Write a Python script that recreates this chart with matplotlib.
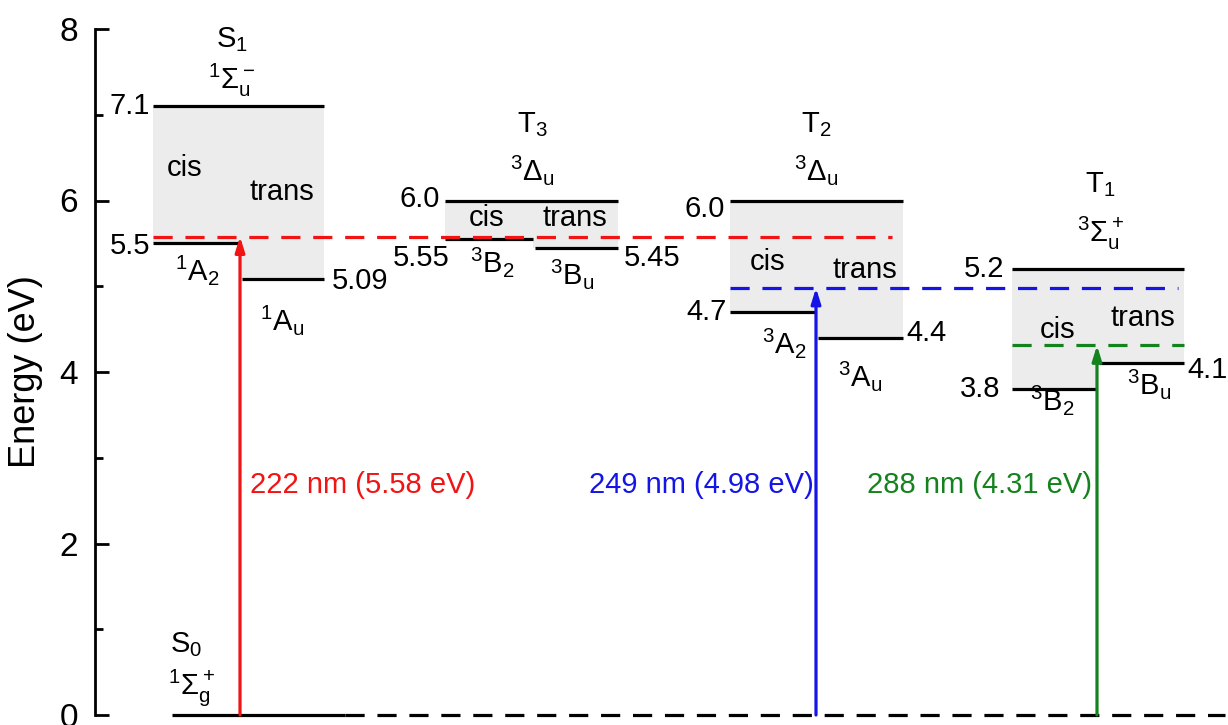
import numpy as np
import matplotlib.pyplot as plt
from matplotlib.ticker import MultipleLocator

plt.rcParams["font.family"] = ["Liberation Sans", "DejaVu Sans"]
plt.rcParams["mathtext.fontset"] = "custom"
plt.rcParams["mathtext.rm"] = "Liberation Sans"
plt.rcParams["mathtext.it"] = "Liberation Sans"
plt.rcParams["mathtext.bf"] = "Liberation Sans:bold"

# energies (eV)
states = ["S$_1$", "T$_3$", "T$_2$", "T$_1$"]
terms = [r"$^1\Sigma_u^-$", r"$^3\Delta_u$", r"$^3\Delta_u$", r"$^3\Sigma_u^+$"]
upper = [7.1, 6.0, 6.0, 5.2]
cis_e = [5.5, 5.55, 4.7, 3.8]
trans_e = [5.09, 5.45, 4.4, 4.1]
upper_lbl = ["7.1", "6.0", "6.0", "5.2"]
cis_lbl = ["5.5", "5.55", "4.7", "3.8"]
trans_lbl = ["5.09", "5.45", "4.4", "4.1"]
cis_sym = [r"$^1$A$_2$", r"$^3$B$_2$", r"$^3$A$_2$", r"$^3$B$_2$"]
trans_sym = [r"$^1$A$_u$", r"$^3$B$_u$", r"$^3$A$_u$", r"$^3$B$_u$"]

# excitations
wavelength = [222, 249, 288]
exc_e = [5.58, 4.98, 4.31]
exc_col = ["#f01414", "#1414e6", "#14821e"]

# layout (x in pixel-like units)
left = [153, 445, 730, 1012]
split = [240, 533, 816, 1097]
right = [324, 618, 903, 1184]
exc_state = [0, 2, 3]
exc_end = [892, 1178, 1184]

PX = 85.75  # pixels per eV, used only to place text


def ypix(p):
    return (715 - p) / PX


fig = plt.figure(figsize=(12.28, 7.25), dpi=100)
ax = fig.add_axes([95 / 1228, 10 / 725, 1 - 95 / 1228, 686 / 725])
ax.set_xlim(95, 1228)
ax.set_ylim(0, 8)

lw = 2.3
fs = 21

for i in range(4):
    l, s, r = left[i], split[i], right[i]
    # shaded box
    ax.fill([l, r, r, s, s, l], [upper[i], upper[i], trans_e[i], trans_e[i], cis_e[i], cis_e[i]],
            color="#ececec", lw=0, zorder=0)
    ax.plot([l, r], [upper[i], upper[i]], color="k", lw=lw, solid_capstyle="butt")
    ax.plot([l, s], [cis_e[i], cis_e[i]], color="k", lw=lw, solid_capstyle="butt")
    ax.plot([s + 2, r], [trans_e[i], trans_e[i]], color="k", lw=lw, solid_capstyle="butt")

# ground state
ax.plot([172, 345], [0, 0], color="k", lw=lw, solid_capstyle="butt", clip_on=False)
ax.plot([345, 1225], [0, 0], color="k", lw=lw, ls=(0, (6, 4)), clip_on=False)

# excitation arrows and dashed levels
for j in range(3):
    k = exc_state[j]
    ax.plot([left[k], exc_end[j]], [exc_e[j], exc_e[j]], color=exc_col[j], lw=lw, ls=(0, (6, 4)))
    ax.annotate("", xy=(split[k], exc_e[j]), xytext=(split[k], 0),
                arrowprops=dict(arrowstyle="-|>,head_length=0.9,head_width=0.28",
                                color=exc_col[j], lw=2.3, shrinkA=0, shrinkB=0),
                annotation_clip=False)

kw = dict(fontsize=fs, ha="center", va="center")

# state names and term symbols
state_xy = [(232, 40), (532, 125), (816, 125), (1100, 185)]
term_xy = [(232, 80), (532, 170), (816, 170), (1100, 233)]
for i in range(4):
    ax.text(state_xy[i][0], ypix(state_xy[i][1]), states[i], **kw)
    ax.text(term_xy[i][0], ypix(term_xy[i][1]), terms[i], **kw)

# upper level labels
up_dx = [-3, -5, -5, -8]
up_dy = [0.0, 0.02, -0.1, 0.0]
for i in range(4):
    ax.text(left[i] + up_dx[i], upper[i] + up_dy[i], upper_lbl[i], fontsize=fs, ha="right", va="center")

# cis level labels
cis_dx = [-3, 5, -3, -12]
cis_dy = [-0.03, -0.22, 0.0, 0.0]
for i in range(4):
    ax.text(left[i] + cis_dx[i], cis_e[i] + cis_dy[i], cis_lbl[i], fontsize=fs, ha="right", va="center")

# trans level labels
tr_dx = [8, 6, 3, 3]
tr_dy = [-0.03, -0.12, 0.05, -0.08]
for i in range(4):
    ax.text(right[i] + tr_dx[i], trans_e[i] + tr_dy[i], trans_lbl[i], fontsize=fs, ha="left", va="center")

# cis / trans words
cis_xy = [(185, 168), (487, 218), (768, 262), (1058, 330)]
trans_xy = [(282, 192), (575, 218), (865, 270), (1143, 318)]
for (x, y) in cis_xy:
    ax.text(x, ypix(y), "cis", **kw)
for (x, y) in trans_xy:
    ax.text(x, ypix(y), "trans", **kw)

# symmetry labels
cis_sym_xy = [(197, 270), (492, 262), (784, 343), (1052, 400)]
trans_sym_xy = [(282, 320), (572, 274), (860, 376), (1149, 384)]
for i in range(4):
    ax.text(cis_sym_xy[i][0], ypix(cis_sym_xy[i][1]), cis_sym[i], **kw)
    ax.text(trans_sym_xy[i][0], ypix(trans_sym_xy[i][1]), trans_sym[i], **kw)

# ground state labels
ax.text(186, ypix(645), "S$_0$", **kw)
ax.text(191, ypix(688), r"$^1\Sigma_g^+$", **kw)

# excitation labels
exc_x = [250, 589, 867]
for j in range(3):
    ax.text(exc_x[j], ypix(485), f"{wavelength[j]} nm ({exc_e[j]:.2f} eV)",
            color=exc_col[j], fontsize=fs, ha="left", va="center")

# axes styling
for sp in ["top", "right", "bottom"]:
    ax.spines[sp].set_visible(False)
ax.spines["left"].set_linewidth(2.0)
ax.set_xticks([])
ax.yaxis.set_major_locator(MultipleLocator(2))
ax.yaxis.set_minor_locator(MultipleLocator(1))
ax.tick_params(axis="y", which="major", direction="in", length=10, width=2.0, labelsize=24, pad=12)
ax.tick_params(axis="y", which="minor", direction="in", length=6, width=2.0)
ax.set_ylabel("Energy (eV)", fontsize=26, labelpad=12)

for t in ax.texts:
    t.set_clip_on(False)

fig.savefig("out.png", dpi=100)
